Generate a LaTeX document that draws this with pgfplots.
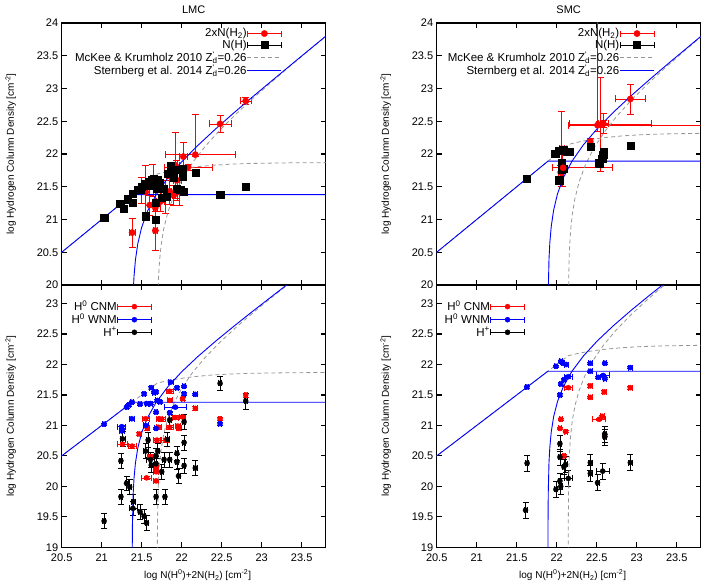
\documentclass[border=0pt]{standalone}
\usepackage{fontspec}
\setmainfont{Liberation Sans}
\usepackage{pgfplots}
\usepackage{pgfplotstable}
\pgfplotsset{compat=1.18}

\definecolor{mkgray}{RGB}{150,150,150}

% ---------------- model curves (tabulated) ----------------
% McKee & Krumholz 2010, LMC: atomic and molecular columns
\pgfplotstableread{
x y
20.40 20.40
21.6939 21.6939
21.72 21.7024
21.77 21.7179
21.82 21.7320
21.87 21.7451
21.97 21.7680
22.07 21.7871
22.17 21.8029
22.37 21.8265
22.62 21.8450
22.87 21.8558
23.37 21.8654
23.87 21.8686
}\lmcMKatom
\pgfplotstableread{
x y
21.6942 18.37
21.6949 18.87
21.6970 19.37
21.7035 19.87
21.7107 20.12
21.7231 20.37
21.7439 20.62
21.7774 20.87
21.8289 21.12
21.9036 21.37
22.0055 21.62
22.1365 21.87
22.2961 22.12
22.4814 22.37
22.6879 22.62
22.9102 22.87
23.1434 23.12
23.3834 23.37
23.8743 23.87
}\lmcMKmol
% Sternberg et al. 2014, LMC
\pgfplotstableread{
x y
20.40 20.40
21.38 21.38
23.90 21.38
}\lmcStatom
\pgfplotstableread{
x y
21.3804 18.38
21.3814 18.88
21.3843 19.38
21.3935 19.88
21.4038 20.13
21.4214 20.38
21.4511 20.63
21.4993 20.88
21.5738 21.13
21.6810 21.38
21.8238 21.63
21.9993 21.88
22.2011 22.13
22.4214 22.38
22.6538 22.63
22.8935 22.88
23.3843 23.38
23.8814 23.88
}\lmcStmol
% McKee & Krumholz 2010, SMC
\pgfplotstableread{
x y
20.40 20.40
22.1439 22.1439
22.17 22.1524
22.22 22.1679
22.27 22.1820
22.32 22.1951
22.42 22.2180
22.52 22.2371
22.62 22.2529
22.82 22.2765
23.07 22.2950
23.32 22.3058
23.82 22.3154
24.32 22.3186
}\smcMKatom
\pgfplotstableread{
x y
22.1442 18.82
22.1449 19.32
22.1470 19.82
22.1535 20.32
22.1607 20.57
22.1731 20.82
22.1939 21.07
22.2274 21.32
22.2789 21.57
22.3536 21.82
22.4555 22.07
22.5865 22.32
22.7461 22.57
22.9314 22.82
23.1379 23.07
23.3602 23.32
23.5934 23.57
23.8334 23.82
}\smcMKmol
% Sternberg et al. 2014, SMC
\pgfplotstableread{
x y
20.40 20.40
21.89 21.89
23.90 21.89
}\smcStatom
\pgfplotstableread{
x y
21.89014 18.39
21.8904 18.89
21.8914 19.39
21.8943 19.89
21.9035 20.39
21.9138 20.64
21.9314 20.89
21.9611 21.14
22.0093 21.39
22.0838 21.64
22.1910 21.89
22.3338 22.14
22.5093 22.39
22.7111 22.64
22.9314 22.89
23.1638 23.14
23.4035 23.39
23.8943 23.89
}\smcStmol

% ---------------- LMC, total hydrogen ----------------
\pgfplotstableread{
x y ex ey
21.38 20.80 0.04 0.22
21.67 20.83 0.03 0.30
21.67 21.18 0.03 0.35
21.60 21.22 0.05 0.15
21.73 21.27 0.05 0.15
21.55 21.42 0.05 0.40
21.50 21.45 0.05 0.20
21.64 21.60 0.06 0.25
21.80 21.35 0.06 0.25
21.85 21.43 0.05 0.20
21.90 21.37 0.04 0.15
21.97 21.42 0.10 0.20
21.94 21.60 0.05 0.30
21.92 21.83 0.05 0.50
22.02 21.96 0.05 0.22
22.08 21.80 0.30 0.05
22.48 22.46 0.14 0.13
22.80 22.81 0.07 0.05
}\lmcTopRed
\pgfplotstableread{
x y xm xp ym yp
22.17 21.99 0.38 0.50 0.02 0.61
}\lmcTopRedAsym
\pgfplotstableread{
x y ex ey
21.03 21.03 0.02 0.02
21.23 21.24 0.02 0.02
21.27 21.17 0.02 0.02
21.32 21.31 0.02 0.02
21.39 21.26 0.02 0.02
21.39 21.40 0.02 0.02
21.45 21.45 0.02 0.02
21.48 21.46 0.02 0.02
21.50 21.50 0.02 0.02
21.55 21.05 0.02 0.02
21.54 21.54 0.02 0.02
21.58 21.52 0.02 0.02
21.59 21.58 0.02 0.02
21.62 21.61 0.02 0.02
21.65 21.62 0.02 0.02
21.67 21.00 0.02 0.02
21.67 21.26 0.02 0.02
21.69 21.48 0.02 0.02
21.70 21.60 0.02 0.02
21.72 21.56 0.02 0.02
21.75 21.33 0.02 0.02
21.77 21.47 0.02 0.02
21.81 21.35 0.02 0.02
21.83 21.70 0.02 0.02
21.86 21.82 0.02 0.02
21.90 21.64 0.02 0.02
21.94 21.76 0.02 0.02
21.94 21.47 0.02 0.02
21.98 21.45 0.02 0.02
22.01 21.65 0.02 0.02
22.01 21.78 0.02 0.02
22.02 21.43 0.02 0.02
22.17 21.72 0.02 0.02
22.48 21.38 0.02 0.02
22.80 21.50 0.02 0.02
}\lmcTopBlack

% ---------------- SMC, total hydrogen ----------------
\pgfplotstableread{
x y ex ey
22.92 22.84 0.19 0.23
22.58 22.47 0.06 0.15
22.07 21.75 0.03 0.25
22.06 22.08 0.03 0.57
22.05 21.72 0.03 0.10
22.42 22.19 0.03 0.05
22.55 22.45 0.05 0.72
}\smcTopRed
\pgfplotstableread{
x y xm xp ym yp
22.51 22.44 0.36 1.50 0.10 2.00
22.58 22.46 0.42 0.60 0.05 0.05
22.08 21.79 0.13 0.61 0.03 0.03
}\smcTopRedAsym
\pgfplotstableread{
x y ex ey
21.625 21.62 0.02 0.02
21.98 22.00 0.02 0.02
22.03 22.05 0.02 0.02
22.08 22.06 0.02 0.02
22.12 22.04 0.02 0.02
22.16 22.03 0.02 0.02
22.03 21.60 0.02 0.02
22.06 21.77 0.02 0.02
22.09 21.78 0.02 0.02
22.06 21.86 0.02 0.02
22.42 22.11 0.02 0.02
22.53 21.86 0.05 0.02
22.57 21.93 0.05 0.02
22.58 21.99 0.02 0.02
22.59 22.04 0.02 0.02
22.92 22.13 0.02 0.02
}\smcTopBlack

% ---------------- LMC, phases ----------------
\pgfplotstableread{
x y ex ey
21.26 20.69 0.06 0.03
21.38 20.66 0.05 0.03
21.47 20.86 0.02 0.03
21.55 21.11 0.04 0.03
21.57 20.95 0.03 0.03
21.61 20.49 0.04 0.03
21.56 20.14 0.06 0.03
21.68 20.30 0.03 0.03
21.68 20.24 0.03 0.03
21.68 20.09 0.03 0.03
21.71 20.97 0.03 0.03
21.72 21.11 0.04 0.03
21.75 21.10 0.04 0.03
21.85 21.56 0.04 0.03
21.85 20.97 0.04 0.03
21.85 21.41 0.03 0.03
21.92 21.13 0.04 0.03
21.95 20.99 0.03 0.03
21.96 20.95 0.03 0.03
22.01 21.44 0.02 0.03
22.01 21.14 0.04 0.03
22.17 21.28 0.02 0.03
21.69 20.76 0.04 0.03
21.80 20.76 0.05 0.03
22.48 21.11 0.02 0.03
22.80 21.50 0.02 0.03
}\lmcCNM
\pgfplotstableread{
x y ex ey
21.03 21.02 0.02 0.02
21.25 20.98 0.05 0.02
21.25 20.91 0.03 0.02
21.375 21.11 0.03 0.02
21.31 21.30 0.02 0.02
21.34 21.34 0.02 0.02
21.375 21.38 0.02 0.02
21.48 21.35 0.02 0.02
21.53 21.52 0.02 0.02
21.62 21.62 0.02 0.02
21.655 21.54 0.02 0.02
21.68 21.55 0.02 0.02
21.61 21.36 0.02 0.02
21.56 21.36 0.02 0.02
21.695 21.41 0.02 0.02
21.73 21.39 0.02 0.02
21.68 21.22 0.02 0.02
21.55 21.00 0.03 0.02
21.68 20.95 0.02 0.02
21.92 21.30 0.14 0.02
21.86 21.71 0.03 0.02
21.94 21.62 0.02 0.02
22.03 21.64 0.02 0.02
22.03 21.52 0.02 0.02
22.17 21.51 0.02 0.02
21.85 21.21 0.02 0.02
22.48 21.03 0.02 0.02
}\lmcWNM
\pgfplotstableread{
x y ex ey
21.03 19.43 0.02 0.12
21.24 20.42 0.02 0.12
21.24 19.83 0.02 0.12
21.26 20.78 0.03 0.12
21.31 20.05 0.02 0.12
21.35 19.99 0.02 0.12
21.395 19.75 0.02 0.12
21.39 19.64 0.05 0.12
21.48 19.58 0.02 0.12
21.53 19.51 0.02 0.12
21.56 19.40 0.02 0.12
21.58 20.76 0.02 0.12
21.55 20.58 0.03 0.12
21.62 20.35 0.02 0.12
21.61 20.44 0.05 0.12
21.68 20.50 0.02 0.12
21.68 20.37 0.02 0.12
21.68 19.83 0.02 0.12
21.70 20.58 0.02 0.12
21.75 20.24 0.02 0.12
21.79 19.83 0.02 0.12
21.82 20.77 0.02 0.12
21.78 20.44 0.02 0.12
21.85 20.44 0.02 0.12
21.85 21.09 0.02 0.12
21.94 20.54 0.02 0.12
21.94 20.40 0.02 0.12
21.96 20.17 0.02 0.12
22.03 21.06 0.02 0.12
22.03 20.72 0.02 0.12
22.03 20.34 0.02 0.12
22.17 20.30 0.02 0.12
22.48 21.69 0.02 0.12
22.80 21.40 0.02 0.13
}\lmcHII

% ---------------- SMC, phases ----------------
\pgfplotstableread{
x y ex ey
22.145 21.62 0.05 0.02
22.42 21.65 0.02 0.02
22.42 21.46 0.02 0.02
22.595 21.55 0.02 0.02
22.92 21.62 0.02 0.02
22.05 21.10 0.02 0.02
22.04 20.95 0.02 0.02
22.11 20.90 0.02 0.02
22.53 21.10 0.08 0.02
22.57 21.15 0.02 0.02
22.60 20.84 0.02 0.02
22.09 20.50 0.02 0.02
}\smcCNM
\pgfplotstableread{
x y ex ey
21.625 21.63 0.02 0.02
21.99 21.97 0.02 0.02
22.05 22.05 0.02 0.02
22.08 22.02 0.02 0.02
22.12 22.00 0.02 0.02
22.04 21.50 0.02 0.02
22.05 21.68 0.02 0.02
22.09 21.75 0.02 0.02
22.145 21.80 0.05 0.02
22.42 22.02 0.02 0.02
22.42 21.89 0.02 0.02
22.60 22.02 0.02 0.02
22.52 21.79 0.02 0.02
22.58 21.82 0.08 0.02
22.60 21.77 0.02 0.02
22.92 21.95 0.02 0.02
}\smcWNM
\pgfplotstableread{
x y ex ey
21.63 20.38 0.02 0.13
21.61 19.61 0.02 0.13
22.04 20.70 0.02 0.13
22.04 20.48 0.02 0.13
22.09 20.32 0.02 0.13
22.11 20.36 0.02 0.13
22.04 20.09 0.02 0.13
21.99 19.95 0.02 0.13
22.05 20.00 0.02 0.13
22.145 20.13 0.05 0.13
22.42 20.39 0.02 0.13
22.42 20.21 0.02 0.13
22.51 20.06 0.02 0.13
22.575 20.25 0.08 0.13
22.60 20.81 0.02 0.13
22.60 20.86 0.02 0.13
22.92 20.39 0.02 0.13
}\smcHII

\newcommand{\zd}{Z\rlap{\textsuperscript{\textquotesingle}}\textsubscript{d}}

\pgfplotsset{
  panel/.style={
    scale only axis, width=264pt, height=262pt,
    xmin=20.5, xmax=23.8,
    xtick={20.5,21,21.5,22,22.5,23,23.5},
    tick align=inside,
    major tick length=5pt,
    axis line style={line width=1.3pt},
    tick style={black, line width=1.1pt},
    /pgf/number format/assume math mode=true,
    tick label style={font=\fontsize{11}{13}\selectfont},
    xticklabel style={yshift=-3pt},
    label style={font=\fontsize{11}{13}\selectfont},
    title style={font=\fontsize{11}{13}\selectfont},
    every axis y label/.style={at={(axis description cs:-0.193,0.5)}, rotate=90, anchor=center},
    ylabel={log Hydrogen Column Density [cm\textsuperscript{-2}]},
    legend cell align=right,
    legend plot pos=right,
    legend style={draw=none, fill=none, font=\fontsize{11.5}{12}\selectfont,
      row sep=1pt, nodes={inner sep=0.3pt}},
    legend image code/.code={\draw[#1] (0pt,0pt) -- (34pt,0pt);},
  },
  toppanel/.style={panel, ymin=20, ymax=24,
    ytick={20,20.5,21,21.5,22,22.5,23,23.5,24}, xticklabels={}},
  botpanel/.style={panel, ymin=19, ymax=23.3,
    ytick={19,19.5,20,20.5,21,21.5,22,22.5,23},
    xlabel={log N(H\textsuperscript{0})+2N(H\textsubscript{2}) [cm\textsuperscript{-2}]},
    every axis x label/.style={at={(axis description cs:0.515,0)}, yshift=-28pt, anchor=center}},
  errleg/.style={legend image code/.code={
     \draw[##1, mark=none, solid, line width=0.6pt] (0pt,0pt) -- (34pt,0pt)
        (0pt,-3pt) -- (0pt,3pt) (34pt,-3pt) -- (34pt,3pt);
     \draw[##1, only marks] plot coordinates {(17pt,0pt)};}},
  errpts/.style={only marks, mark options={solid, line width=0.3pt},
     /pgfplots/error bars/x dir=both, /pgfplots/error bars/x explicit,
     /pgfplots/error bars/y dir=both, /pgfplots/error bars/y explicit,
     /pgfplots/error bars/error bar style={line width=0.6pt, solid},
     /pgfplots/error bars/error mark options={rotate=90, line width=0.6pt, mark size=#1}},
  errpts/.default=3.5pt,
  mkline/.style={mkgray, line width=0.8pt, dash pattern=on 4pt off 3pt},
  stline/.style={blue, line width=0.9pt},
}

\begin{document}
\begin{tikzpicture}
\useasboundingbox (0,0) rectangle (703pt,586pt);

% ---------- LMC, total ----------
\begin{axis}[toppanel, at={(61.7pt,301pt)}, anchor=south west, title={LMC},
  legend style={at={(0.846,0.988)}, anchor=north east}]
\addplot[red, mark=*, mark size=3.2pt, errpts, errleg]
  table[x=x, y=y, x error=ex, y error=ey] {\lmcTopRed};
\addlegendentry{2xN(H\textsubscript{2})}
\addplot[black, mark=square*, mark size=3.6pt, errpts, errleg]
  table[x=x, y=y, x error=ex, y error=ey] {\lmcTopBlack};
\addlegendentry{N(H)}
\addplot[red, mark=*, mark size=3.2pt, errpts, forget plot]
  table[x=x, y=y, x error minus=xm, x error plus=xp, y error minus=ym, y error plus=yp] {\lmcTopRedAsym};
\addplot[mkline] table {\lmcMKatom};
\addlegendentry{McKee \& Krumholz 2010 \zd=0.26}
\addplot[mkline, forget plot] table {\lmcMKmol};
\addplot[stline] table {\lmcStatom};
\addlegendentry{Sternberg et al. 2014 \zd=0.26}
\addplot[stline, forget plot] table {\lmcStmol};
\end{axis}

% ---------- SMC, total ----------
\begin{axis}[toppanel, at={(436.7pt,301pt)}, anchor=south west, title={SMC},
  legend style={at={(0.837,0.988)}, anchor=north east}]
\addplot[red, mark=*, mark size=3.2pt, errpts, errleg]
  table[x=x, y=y, x error=ex, y error=ey] {\smcTopRed};
\addlegendentry{2xN(H\textsubscript{2})}
\addplot[black, mark=square*, mark size=3.6pt, errpts, errleg]
  table[x=x, y=y, x error=ex, y error=ey] {\smcTopBlack};
\addlegendentry{N(H)}
\addplot[red, mark=*, mark size=3.2pt, errpts, forget plot]
  table[x=x, y=y, x error minus=xm, x error plus=xp, y error minus=ym, y error plus=yp] {\smcTopRedAsym};
\addplot[mkline] table {\smcMKatom};
\addlegendentry{McKee \& Krumholz 2010 \zd=0.26}
\addplot[mkline, forget plot] table {\smcMKmol};
\addplot[stline] table {\smcStatom};
\addlegendentry{Sternberg et al. 2014 \zd=0.26}
\addplot[stline, forget plot] table {\smcStmol};
\end{axis}

% ---------- LMC, phases ----------
\begin{axis}[botpanel, at={(61.7pt,38.7pt)}, anchor=south west,
  legend style={at={(0.353,0.95)}, anchor=north east}]
\addplot[red, mark=*, mark size=2.6pt, errpts=3pt, errleg]
  table[x=x, y=y, x error=ex, y error=ey] {\lmcCNM};
\addlegendentry{H\textsuperscript{0} CNM}
\addplot[blue, mark=*, mark size=2.6pt, errpts=3pt, errleg]
  table[x=x, y=y, x error=ex, y error=ey] {\lmcWNM};
\addlegendentry{H\textsuperscript{0} WNM}
\addplot[black, mark=*, mark size=2.6pt, errpts=3pt, errleg]
  table[x=x, y=y, x error=ex, y error=ey] {\lmcHII};
\addlegendentry{H\textsuperscript{+}}
\addplot[mkline, forget plot] table {\lmcMKatom};
\addplot[mkline, forget plot] table {\lmcMKmol};
\addplot[stline, forget plot] table {\lmcStatom};
\addplot[stline, forget plot] table {\lmcStmol};
\end{axis}

% ---------- SMC, phases ----------
\begin{axis}[botpanel, at={(436.7pt,38.7pt)}, anchor=south west,
  legend style={at={(0.346,0.95)}, anchor=north east}]
\addplot[red, mark=*, mark size=2.6pt, errpts=3pt, errleg]
  table[x=x, y=y, x error=ex, y error=ey] {\smcCNM};
\addlegendentry{H\textsuperscript{0} CNM}
\addplot[blue, mark=*, mark size=2.6pt, errpts=3pt, errleg]
  table[x=x, y=y, x error=ex, y error=ey] {\smcWNM};
\addlegendentry{H\textsuperscript{0} WNM}
\addplot[black, mark=*, mark size=2.6pt, errpts=3pt, errleg]
  table[x=x, y=y, x error=ex, y error=ey] {\smcHII};
\addlegendentry{H\textsuperscript{+}}
\addplot[mkline, forget plot] table {\smcMKatom};
\addplot[mkline, forget plot] table {\smcMKmol};
\addplot[stline, forget plot] table {\smcStatom};
\addplot[stline, forget plot] table {\smcStmol};
\end{axis}
\end{tikzpicture}
\end{document}
